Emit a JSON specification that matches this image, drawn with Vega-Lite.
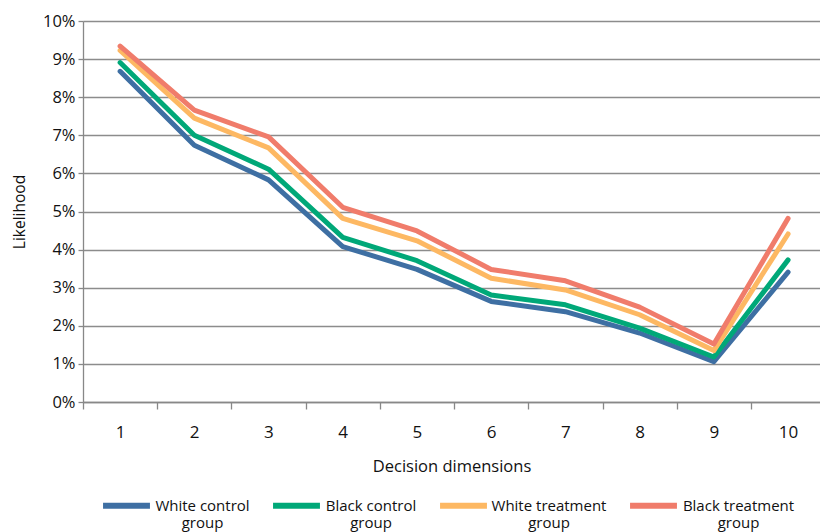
{
  "$schema": "https://vega.github.io/schema/vega-lite/v6.json",
  "autosize": {"type": "none"},
  "padding": {"left": 83, "top": 21, "right": 0, "bottom": 130},
  "width": 737,
  "height": 381,
  "config": {
    "font": "Open Sans",
    "view": {"stroke": null},
    "axis": {"domainColor": "#888888", "tickColor": "#888888", "gridColor": "#8c8c8c", "labelColor": "#111111", "titleColor": "#111111", "titleFontWeight": "normal", "labelFont": "Open Sans", "titleFont": "Open Sans"}
  },
  "data": {"values": [
    {"dim": 1, "group": "White control group", "v": 0.0868},
    {"dim": 2, "group": "White control group", "v": 0.0674},
    {"dim": 3, "group": "White control group", "v": 0.0583},
    {"dim": 4, "group": "White control group", "v": 0.0408},
    {"dim": 5, "group": "White control group", "v": 0.0348},
    {"dim": 6, "group": "White control group", "v": 0.0264},
    {"dim": 7, "group": "White control group", "v": 0.0237},
    {"dim": 8, "group": "White control group", "v": 0.0181},
    {"dim": 9, "group": "White control group", "v": 0.0106},
    {"dim": 10, "group": "White control group", "v": 0.0341},
    {"dim": 1, "group": "Black control group", "v": 0.0891},
    {"dim": 2, "group": "Black control group", "v": 0.0700},
    {"dim": 3, "group": "Black control group", "v": 0.0611},
    {"dim": 4, "group": "Black control group", "v": 0.0432},
    {"dim": 5, "group": "Black control group", "v": 0.0371},
    {"dim": 6, "group": "Black control group", "v": 0.0281},
    {"dim": 7, "group": "Black control group", "v": 0.0255},
    {"dim": 8, "group": "Black control group", "v": 0.0194},
    {"dim": 9, "group": "Black control group", "v": 0.0118},
    {"dim": 10, "group": "Black control group", "v": 0.0373},
    {"dim": 1, "group": "White treatment group", "v": 0.0923},
    {"dim": 2, "group": "White treatment group", "v": 0.0745},
    {"dim": 3, "group": "White treatment group", "v": 0.0667},
    {"dim": 4, "group": "White treatment group", "v": 0.0482},
    {"dim": 5, "group": "White treatment group", "v": 0.0423},
    {"dim": 6, "group": "White treatment group", "v": 0.0325},
    {"dim": 7, "group": "White treatment group", "v": 0.0294},
    {"dim": 8, "group": "White treatment group", "v": 0.0229},
    {"dim": 9, "group": "White treatment group", "v": 0.0135},
    {"dim": 10, "group": "White treatment group", "v": 0.0441},
    {"dim": 1, "group": "Black treatment group", "v": 0.0934},
    {"dim": 2, "group": "Black treatment group", "v": 0.0766},
    {"dim": 3, "group": "Black treatment group", "v": 0.0696},
    {"dim": 4, "group": "Black treatment group", "v": 0.0511},
    {"dim": 5, "group": "Black treatment group", "v": 0.0449},
    {"dim": 6, "group": "Black treatment group", "v": 0.0348},
    {"dim": 7, "group": "Black treatment group", "v": 0.0318},
    {"dim": 8, "group": "Black treatment group", "v": 0.0249},
    {"dim": 9, "group": "Black treatment group", "v": 0.0152},
    {"dim": 10, "group": "Black treatment group", "v": 0.0482}
  ]},
  "mark": {"type": "line", "strokeWidth": 5, "strokeJoin": "round", "strokeCap": "round"},
  "encoding": {
    "x": {
      "field": "dim", "type": "quantitative",
      "scale": {"domain": [0.5, 10.43], "nice": false, "zero": false},
      "axis": {
        "title": "Decision dimensions", "titleFontSize": 16.5, "titlePadding": 18,
        "values": [0.5, 1.5, 2.5, 3.5, 4.5, 5.5, 6.5, 7.5, 8.5, 9.5],
        "labelExpr": "format(datum.value + 0.5, 'd')",
        "labelOffset": 37, "labelFontSize": 17, "labelPadding": 15,
        "labelBound": false, "labelFlush": false, "labelOverlap": false,
        "tickSize": 7, "tickWidth": 1.3, "domainWidth": 1.3, "grid": false
      }
    },
    "y": {
      "field": "v", "type": "quantitative",
      "scale": {"domain": [0, 0.1], "nice": false},
      "axis": {
        "title": "Likelihood", "titleFontSize": 15.5, "titlePadding": 15,
        "format": ".0%", "values": [0, 0.01, 0.02, 0.03, 0.04, 0.05, 0.06, 0.07, 0.08, 0.09, 0.1],
        "labelFontSize": 16.5, "labelPadding": 3, "tickSize": 5, "tickWidth": 1.3,
        "domainWidth": 1.3, "grid": true, "gridWidth": 1.3
      }
    },
    "color": {
      "field": "group", "type": "nominal",
      "scale": {
        "domain": ["White control group", "Black control group", "White treatment group", "Black treatment group"],
        "range": ["#3E6FA3", "#00A878", "#FDB863", "#F07C6B"]
      },
      "legend": {
        "title": null, "orient": "none", "direction": "horizontal",
        "legendX": 17, "legendY": 458,
        "symbolType": "stroke", "symbolSize": 2200, "symbolStrokeWidth": 6,
        "labelFontSize": 15, "labelColor": "#111111", "labelLimit": 200,
        "labelExpr": "[slice(datum.label, 0, lastindexof(datum.label, ' ')), 'group']",
        "labelBaseline": "middle", "labelOffset": 2, "columnPadding": 11,
        "encode": {
          "labels": {
            "update": {
              "align": {"value": "center"},
              "lineHeight": {"value": 17},
              "dx": {"signal": "datum.value == 'White control group' ? 47.5 : datum.value == 'Black control group' ? 46 : datum.value == 'White treatment group' ? 57 : 56.5"}
            }
          }
        }
      }
    }
  }
}
